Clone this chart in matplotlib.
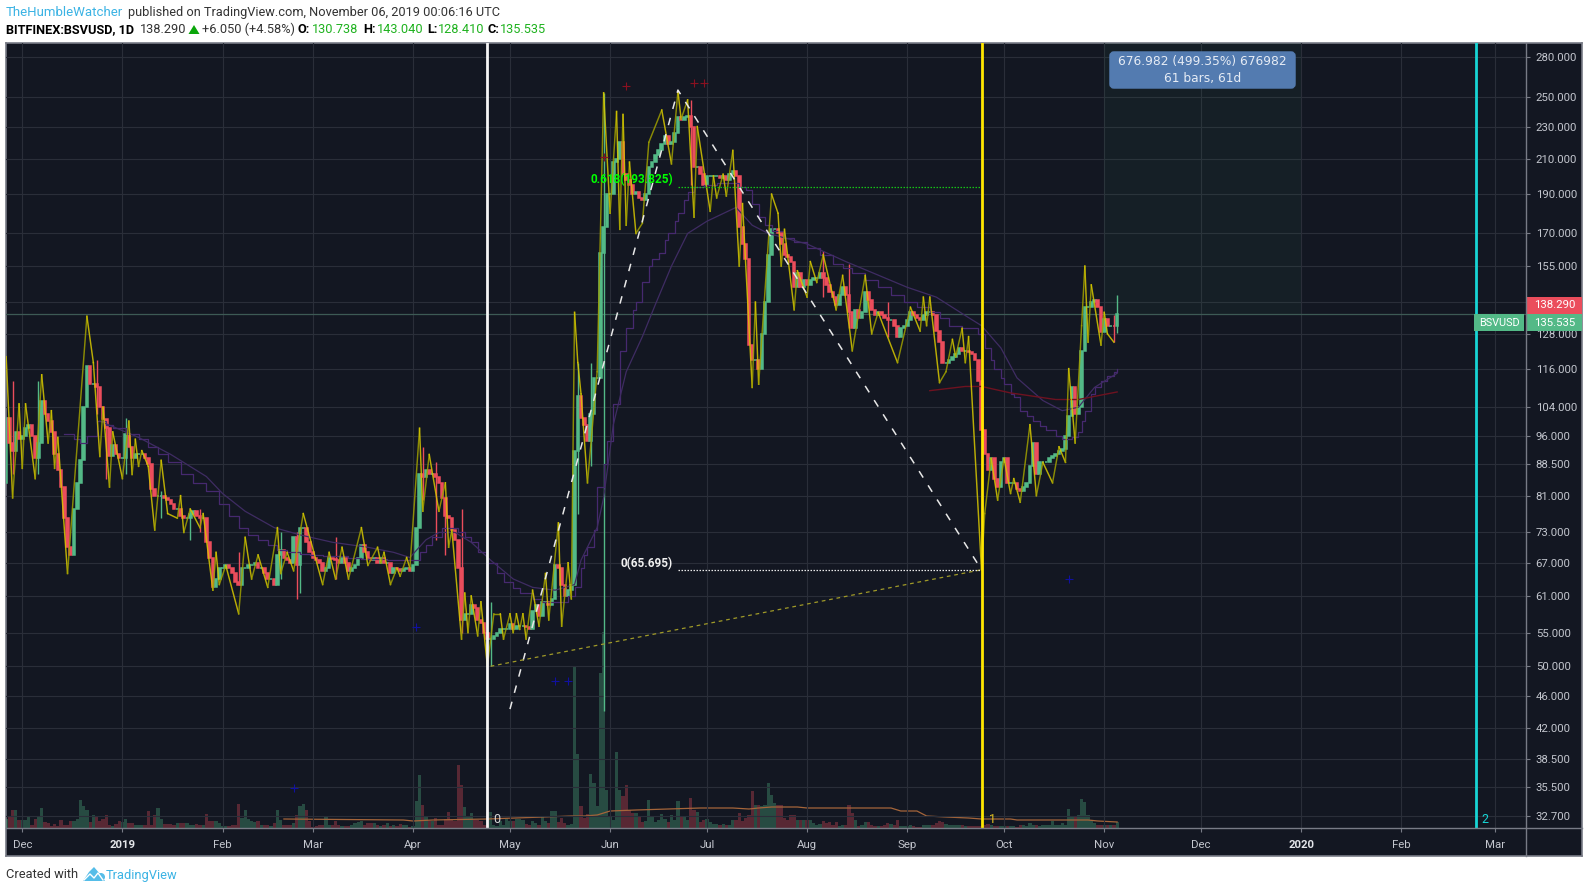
import matplotlib
matplotlib.use("Agg")
import numpy as np
import pandas as pd
import matplotlib.dates as mdates
from matplotlib import pyplot as plt
from matplotlib.patches import Rectangle, FancyBboxPatch, Polygon, Circle

# daily closes by month
close_nov18 = [101, 94, 92, 97, 95]
close_dec18 = [96, 98, 99, 96, 90, 94, 106, 102, 100, 97, 91, 87, 83, 76, 70, 68.5, 78, 84, 89.5, 104, 117, 111, 111, 110, 104, 100.5, 98, 90.5, 93.6, 91, 90]
close_jan19 = [90, 96.5, 93, 90, 91, 91, 91, 90, 88.5, 82.5, 81, 81, 81, 80.5, 80, 79, 78, 78, 76.5, 76, 76, 77, 77.5, 76.5, 76, 76, 71, 68, 62.5, 64, 66]
close_feb19 = [66, 66.5, 66, 65, 63.5, 63, 66, 66, 66.5, 66.5, 67, 66, 66, 65, 64, 64, 63, 68.5, 69.5, 68, 67.5, 67, 72, 66.5, 74, 74, 71, 69]
close_mar19 = [68, 67.5, 67, 65.5, 66, 68, 67.8, 67.5, 67, 68, 67, 65.5, 66, 66.5, 68, 70.5, 69, 68, 67.5, 68, 67, 68, 67, 67, 65, 66, 65.8, 65.5, 65.8, 66, 65.5]
close_apr19 = [66.5, 74, 86, 85.5, 87, 86, 86, 85.5, 84, 80.5, 76.5, 76, 73.5, 71.5, 66, 57, 58, 58, 59.5, 59, 57, 56.5, 55, 54, 54, 54.5, 55, 55.5, 55.5, 55.6]
close_may19 = [56.3, 55.6, 56, 56, 56, 55.8, 55.5, 58.5, 59.5, 57.7, 60, 60, 59.5, 60.5, 66.5, 66, 63, 61, 62, 63, 92, 107.5, 101, 99, 94.5, 102, 113, 113, 161, 173, 190]
close_jun19 = [190, 208, 210, 220, 201, 198, 195, 190, 191, 188, 187, 190, 205, 208, 212, 215, 219, 224, 219, 220, 226, 236, 234, 236, 237, 230, 205, 205, 201, 195]
close_jul19 = [200, 200, 200, 200, 199, 200, 198, 201, 203, 200, 173, 165, 158, 124, 119, 119, 116, 128, 140, 160, 172, 172, 170, 165, 160, 159, 157, 146, 152, 146, 149]
close_aug19 = [147, 149, 150, 150, 152, 150, 147, 144, 142, 139, 143, 146, 143, 136, 130, 137, 134, 136, 144, 141, 137, 135, 136, 135, 134, 133, 133, 131, 127, 130, 131]
close_sep19 = [133, 136, 135, 134, 133, 135, 136, 136, 135, 129, 125, 118, 118, 119, 120, 121, 123, 122, 122, 121.5, 121, 119, 112, 97.5, 91, 87, 90, 85, 83, 89]
close_oct19 = [90, 84, 84, 84, 82.5, 82, 83, 84, 88, 94, 86, 89, 89, 89, 90, 90.5, 91, 92, 92.5, 96, 101.5, 110, 102, 104, 121.8, 138, 138, 140, 141, 138, 128.5]
close_nov19 = [133.5, 131, 131, 130.7, 135.535]
first_open = 84

# volume by month (same length as the closes, unit is arbitrary)
vol_nov18 = [9, 12, 18, 18, 8]
vol_dec18 = [8, 8, 12, 3, 9, 12, 20, 6, 5, 2, 4, 2, 8, 3, 3, 7, 7, 9, 28, 22, 18, 6, 13, 12, 7, 9, 13, 3, 2, 4, 7]
vol_jan19 = [6, 9, 5, 5, 3, 3, 3, 3, 17, 3, 13, 20, 9, 4, 4, 4, 3, 5, 5, 5, 5, 3, 3, 4, 3, 3, 14, 7, 7, 7, 5]
vol_feb19 = [2, 2, 2, 3, 3, 24, 10, 18, 9, 7, 6, 7, 3, 3, 3, 2, 5, 18, 8, 3, 3, 3, 5, 13, 22, 24, 18, 7]
vol_mar19 = [1, 2, 3, 3, 12, 3, 3, 7, 3, 2, 2, 2, 3, 5, 6, 7, 3, 5, 5, 5, 3, 2, 3, 5, 2, 3, 2, 4, 3, 3, 1]
vol_apr19 = [2, 27, 53, 23, 12, 7, 7, 10, 3, 3, 9, 16, 8, 7, 63, 43, 21, 12, 15, 8, 8, 7, 3, 16, 16, 3, 2, 7, 3, 10]
vol_may19 = [7, 7, 9, 9, 8, 4, 3, 7, 5, 3, 12, 7, 5, 17, 17, 6, 10, 5, 3, 4, 162, 74, 22, 10, 14, 54, 45, 22, 155, 196, 38]
vol_jun19 = [12, 8, 76, 38, 32, 43, 18, 15, 15, 12, 6, 7, 28, 11, 6, 8, 14, 9, 6, 13, 8, 27, 12, 11, 8, 30, 18, 16, 6, 8]
vol_jul19 = [9, 6, 4, 4, 3, 4, 3, 3, 8, 8, 15, 7, 10, 13, 37, 23, 23, 22, 23, 45, 33, 25, 23, 23, 10, 8, 13, 13, 8, 8, 8]
vol_aug19 = [8, 8, 5, 3, 4, 7, 5, 6, 3, 6, 2, 3, 3, 23, 15, 8, 2, 3, 6, 6, 3, 2, 2, 2, 3, 5, 4, 3, 8, 2, 2]
vol_sep19 = [2, 3, 2, 1, 1, 3, 3, 3, 3, 5, 7, 6, 4, 3, 3, 3, 3, 3, 2, 2, 2, 2, 2, 2, 3, 4, 3, 2, 2, 2]
vol_oct19 = [2, 2, 2, 2, 1, 3, 3, 2, 5, 3, 3, 2, 3, 3, 3, 7, 3, 3, 5, 3, 19, 12, 12, 13, 29, 26, 13, 8, 5, 3, 3]
vol_nov19 = [3, 3, 3, 3, 6]

# only the wicks that stick out (day = days after 2018-12-01)
wick_days = [-3, 5, 23, 26, 32, 43, 52, 55, 67, 80, 85, 86, 97, 124, 128, 131, 136, 145, 172, 176, 180, 207, 248, 256, 268, 338, 339]
wick_highs = [112, 112, 119, 100, 101, 82, 78, 78, 69, 73, 73, 69, 72, 93, 89, 79, 78, 60, 118, 118, 253, 248, 162, 156, 140, 135, 143.04]
wick_lows = [86, 86, 102, 85, 86, 76, 71.5, 73, 63, 64, 60.5, 61.5, 64, 80, 71.5, 68.5, 55, 50, 77, 88, 44, 195, 142, 130, 127, 125, 128.41]

# yellow high/low swing line
zz_days = [-5, -3, -1, 0, 1, 4, 6, 8, 9, 10, 11, 14, 20, 22, 24, 25, 27, 28, 31, 33, 34, 35, 36, 37, 39, 41, 43, 45, 48, 49, 50, 52, 55, 56, 59, 60, 61, 63, 67, 69, 71, 73, 76, 79, 80, 82, 84, 87, 93, 95, 97, 99, 101, 105, 107, 110, 111, 112, 114, 116, 117, 119, 120, 123, 124, 126, 129, 131, 132, 133, 136, 137, 138, 139, 141,
           142, 144, 146, 148, 149, 151, 152, 153, 154, 155, 156, 158, 160, 162, 163, 166, 167, 169, 170, 171, 172, 173, 175, 178, 180, 182, 184, 185, 186, 187, 188, 190, 192, 194, 198, 201, 203, 204, 206, 208, 209, 213, 214, 215, 217, 218, 220, 222, 223, 226, 227, 228, 232, 234, 235, 236, 239, 240, 243, 244, 246, 248, 252, 254, 257, 261, 263, 265, 271, 275, 278, 279, 280, 281, 284, 286, 288, 289, 291, 292, 293, 297,
           298, 300, 302, 304, 306, 307, 309, 312, 314, 316, 319, 321, 323, 324, 326, 328, 329, 330, 331, 334, 335, 336, 338]
zz_prices = [120, 80.5, 105, 87.5, 105, 85, 114, 94, 103, 87.5, 95.5, 65, 134.5, 118, 90.5, 104, 83, 97, 85, 100, 86, 95, 88, 92, 88, 73.5, 89.5, 77, 76, 81, 73, 78, 74, 77, 62, 69, 63, 66.5, 58, 72, 64, 68.5, 62.5, 74, 65, 69, 65.5, 77, 63, 69, 64, 70, 64, 74, 66.5, 70, 67, 69, 63, 66, 64.5, 68, 66, 98, 77.5, 91, 77.5, 84, 70, 73.5, 54, 61.5, 55, 61, 54.5,
             60, 50, 58, 58, 54, 58, 55, 58, 55.5, 58, 54, 62, 56, 65, 57, 75, 56, 67, 60.5, 136, 118, 108, 84, 115, 253, 180, 240, 172, 238, 174, 208, 170, 175, 220, 241, 207, 254, 235, 248, 178, 230, 181, 200, 188, 201, 189, 215, 155, 185, 110, 140, 111, 190, 180, 155, 172, 137, 153, 142, 157, 148, 160, 137, 151, 122, 151, 128, 136, 118, 138, 129, 142, 131, 142, 111.5, 115, 126, 120, 130, 118, 127, 65.695,
             77, 90, 80, 90, 81.5, 85, 79.5, 99, 81, 89, 84, 93, 89, 116, 94, 131, 155, 125, 147, 124, 136, 128, 125]

# moving averages
ma_step_days = [13, 16, 18, 20, 23, 26, 28, 32, 36, 39, 42, 45, 49, 53, 57, 61, 64, 67, 70, 73, 76, 79, 82, 86, 89, 93, 97, 101, 105, 109, 113, 116, 120, 123, 125, 127, 130, 132, 135, 137, 139, 141, 144, 147, 149, 152, 154, 158, 161, 164, 167, 169, 171, 173, 174, 175, 177, 178, 180, 181, 183, 185, 187, 189, 190, 192, 194, 195, 197, 199, 200, 202, 203, 205, 206, 208, 211, 215, 220, 222, 224, 226, 228, 230, 232, 236, 239, 243, 247, 251, 254, 257, 261, 265, 269, 273, 277, 281, 284, 287, 291, 296, 298, 300, 301, 303, 304, 306, 307, 309, 311, 313, 315, 317, 320, 322, 325, 327, 328, 329, 331, 332, 334, 336, 338, 339]
ma_step_vals = [96.5, 95, 94, 96, 100, 99, 98, 96.5, 95, 93, 91, 89, 86, 84, 82, 79, 76.5, 74, 72.5, 71.5, 70.5, 69.5, 69, 68.7, 68.5, 68.3, 68.2, 68, 67.8, 67.7, 67.6, 67.5, 67.5, 69, 70.5, 72, 74, 74, 73, 72, 71, 69, 67, 65, 63.5, 62.3, 61.5, 60.5, 60, 60, 60, 61, 62.5, 66, 68.5, 70, 73.5, 83, 88.5, 94.5, 105, 122, 130, 137, 140, 148, 155, 158, 161, 167, 170, 176, 180, 187, 191, 194, 195, 196, 196, 194, 192, 185, 178, 174, 171, 168, 166, 163, 160, 156, 154, 152, 149, 146, 143, 140, 138, 136, 134, 131, 130, 128, 123, 119, 116, 113, 111, 108, 107, 103, 101.5, 100, 98.5, 97.5, 96, 95, 95.5, 97, 100, 103, 108, 110, 112, 113.5, 115, 116]
ma_smooth_days = [24, 36, 46, 57, 62, 69, 78, 86, 96, 107, 115, 120, 125, 129, 134, 139, 145, 152, 158, 165, 171, 173, 178, 180, 183, 187, 192, 196, 201, 206, 212, 221, 226, 231, 243, 255, 274, 283, 293, 297, 303, 308, 316, 322, 327, 332, 339]
ma_smooth_vals = [100, 95.5, 91, 85.5, 81.5, 77.5, 74, 72.5, 71, 70, 69, 68, 71.5, 73, 73, 71, 67.5, 64, 62.5, 62, 63, 67.5, 74, 80.5, 99, 115, 127, 139, 155, 170, 176, 183, 174, 170, 165, 157, 146, 142, 134, 131, 123, 113, 106, 103, 104, 110, 114.5]
ma_red_days = [281, 292, 297, 306, 320, 327, 339]
ma_red_vals = [109, 110.3, 110.3, 108.3, 106.3, 106.3, 108.6]
vol_ma_days = [81, 118, 121, 127, 144, 170, 174, 178, 182, 190, 200, 210, 220, 225, 228, 232, 240, 243, 269, 272, 277, 280, 286, 293, 297, 306, 308, 330, 333, 339]
vol_ma_vals = [9, 8, 7, 8, 9, 12, 12, 13, 17, 18, 19, 20, 20, 19, 20, 21, 21, 20, 20, 17, 17, 12, 11, 10, 9, 9, 8, 8, 7, 6]

# drawings
fib_days = [151, 203, 297]
fib_prices = [44.3, 255, 65.695]
trend_days = [145, 297]
trend_prices = [50, 65.695]
red_cross_days = [180, 187, 208, 211]
red_cross_prices = [211, 258, 260, 260]
blue_cross_days = [84, 122, 165, 169, 324]
blue_cross_prices = [35.4, 55.8, 48, 48, 64]

price_ticks = [280, 250, 230, 210, 190, 170, 155, 128, 116, 104, 96, 88.5, 81, 73, 67, 61, 55, 50, 46, 42, 38.5, 35.5, 32.7]
price_grid_extra = [140]
month_ticks = ["2018-12-01", "2019-01-01", "2019-02-01", "2019-03-01", "2019-04-01", "2019-05-01", "2019-06-01", "2019-07-01", "2019-08-01", "2019-09-01", "2019-10-01", "2019-11-01", "2019-12-01", "2020-01-01", "2020-02-01", "2020-03-01"]
month_labels = ["Dec", "2019", "Feb", "Mar", "Apr", "May", "Jun", "Jul", "Aug", "Sep", "Oct", "Nov", "Dec", "2020", "Feb", "Mar"]

BG = "#131722"
GRID = "#2a2e39"
FRAME = "#787b86"
TEXT = "#c3c6ce"
UP = "#53b987"
DOWN = "#eb4d5c"
W, H = 1588, 892
plt.rcParams["font.family"] = ["Roboto", "DejaVu Sans"]


def ax_rect(x0, y0, x1, y1):
    """pixel box (y from the top) to figure fractions"""
    return [x0 / W, 1 - y1 / H, (x1 - x0) / W, (y1 - y0) / H]


def read_candles():
    closes = close_nov18 + close_dec18 + close_jan19 + close_feb19 + close_mar19 + close_apr19 + close_may19 + close_jun19 + close_jul19 + close_aug19 + close_sep19 + close_oct19 + close_nov19
    vols = vol_nov18 + vol_dec18 + vol_jan19 + vol_feb19 + vol_mar19 + vol_apr19 + vol_may19 + vol_jun19 + vol_jul19 + vol_aug19 + vol_sep19 + vol_oct19 + vol_nov19
    closes = np.array(closes, dtype=float)
    opens = np.r_[first_open, closes[:-1]]
    days = np.arange(len(closes)) - 5
    return days, opens, closes, np.array(vols, dtype=float)


fig = plt.figure(figsize=(W / 100, H / 100), dpi=100, facecolor="white")

bg = fig.add_axes(ax_rect(6, 43, 1582, 856), facecolor=BG)
bg.set_xticks([])
bg.set_yticks([])
for s in bg.spines.values():
    s.set_color(FRAME)
    s.set_linewidth(1.2)

x0 = mdates.date2num(pd.Timestamp("2018-12-01"))
days, opens, closes, vols = read_candles()
xs = x0 + days

ax = fig.add_axes(ax_rect(6, 43, 1526, 828))
ax.set_yscale("log")
ax.set_xlim(x0 - 5.05, x0 + 465.6)
ax.set_ylim(31.65, 291.3)
ax.patch.set_visible(False)
for s in ax.spines.values():
    s.set_visible(False)
ax.set_zorder(3)

ax.yaxis.tick_right()
ax.set_yticks(price_ticks)
ax.set_yticklabels([f"{p:.3f}" for p in price_ticks])
ax.minorticks_off()
ax.set_xticks([mdates.date2num(pd.Timestamp(t)) for t in month_ticks])
ax.set_xticklabels(month_labels)
ax.tick_params(axis="y", colors=TEXT, labelsize=8.2, length=3, width=0.8, pad=4, color=FRAME)
ax.tick_params(axis="x", colors=TEXT, labelsize=8.2, length=3, width=0.8, pad=6, color=FRAME)
for lbl in ax.get_xticklabels():
    if lbl.get_text() in ("2019", "2020"):
        lbl.set_color("#e4e6ea")
        lbl.set_fontweight("bold")
ax.grid(True, color=GRID, linewidth=0.8)
ax.set_axisbelow(True)
for p in price_grid_extra:
    ax.axhline(p, color=GRID, linewidth=0.8, zorder=0)

# volume goes under the candles, in its own axes
ax_vol = fig.add_axes(ax_rect(6, 43, 1526, 828), sharex=ax)
ax_vol.set_ylim(0, 785)
ax_vol.axis("off")
ax_vol.set_zorder(2)
vol_colors = [UP if c >= o else DOWN for o, c in zip(opens, closes)]
ax_vol.bar(xs, vols, width=1.0, color=vol_colors, alpha=0.32, linewidth=0)
ax_vol.plot(x0 + np.array(vol_ma_days), vol_ma_vals, color="#a5653a", linewidth=0.9)

# goal zone of the measuring tool
ax.add_patch(Rectangle((x0 + 335, 135.535), 61, 676.982, facecolor="#2e6b4f", alpha=0.1, linewidth=0, zorder=1))
ax.axhline(135.535, color="#3d5a55", linewidth=0.9, zorder=1.5)

# candles
ups = closes >= opens
body_low = np.minimum(opens, closes)
body_high = np.maximum(opens, closes)
colors = np.where(ups, UP, DOWN)
ax.bar(xs, body_high - body_low, bottom=body_low, width=0.8, color=colors, edgecolor=colors, linewidth=1.1, zorder=3)
wick_idx = np.array(wick_days) + 5
ax.vlines(x0 + np.array(wick_days), wick_lows, wick_highs, colors=colors[wick_idx], linewidth=1, zorder=3)

# moving averages
ax.plot(x0 + np.array(ma_step_days), ma_step_vals, color="#46296f", linewidth=0.9, drawstyle="steps-post", zorder=4)
ax.plot(x0 + np.array(ma_smooth_days), ma_smooth_vals, color="#3f2c63", linewidth=0.9, zorder=4)
ax.plot(x0 + np.array(ma_red_days), ma_red_vals, color="#6e1220", linewidth=1, zorder=4)

# swing line: falling legs brighter than rising ones
for i in range(len(zz_days) - 1):
    p0, p1 = zz_prices[i], zz_prices[i + 1]
    col = "#d8c800" if p1 < p0 else "#a0a000"
    ax.plot(x0 + np.array(zz_days[i:i + 2]), [p0, p1], color=col, linewidth=1.05, alpha=0.85, zorder=5)

# fib and trend drawings
ax.plot(x0 + np.array(fib_days), fib_prices, color="#e8e8e8", linewidth=1.1, dashes=(5, 6), zorder=6)
ax.plot(x0 + np.array(trend_days), trend_prices, color="#a09a28", linewidth=0.9, dashes=(3, 3), zorder=6)
ax.plot([x0 + 203, x0 + 297], [193.825, 193.825], color="#16c416", linewidth=0.9, dashes=(1.2, 1.2), zorder=6)
ax.plot([x0 + 203, x0 + 297], [65.695, 65.695], color="#e8e8e8", linewidth=0.9, dashes=(1.2, 1.2), zorder=6)
ax.text(x0 + 201.5, 197.8, "0.618(193.825)", color="#00ff00", fontsize=8.5, fontweight="bold", ha="right", va="center", zorder=7)
ax.text(x0 + 201.5, 66.8, "0(65.695)", color="#f0f0f0", fontsize=8.5, fontweight="bold", ha="right", va="center", zorder=7)

# cycle lines
ax.axvline(x0 + 144, color="#f5f5f5", linewidth=2, zorder=7)
ax.axvline(x0 + 297.2, color="#ffe600", linewidth=2, zorder=7)
ax.axvline(x0 + 450.2, color="#17d5d5", linewidth=2, zorder=7)
ax.text(x0 + 145.7, 32.4, "0", color="#d8d8d8", fontsize=9, va="center", zorder=7)
ax.text(x0 + 299.2, 32.4, "1", color="#e0c020", fontsize=9, va="center", zorder=7)
ax.text(x0 + 451.9, 32.4, "2", color="#17d5d5", fontsize=9, va="center", zorder=7)

ax.plot(x0 + np.array(red_cross_days), red_cross_prices, "+", color="#8a1020", markersize=6, markeredgewidth=0.8, zorder=6)
ax.plot(x0 + np.array(blue_cross_days), blue_cross_prices, "+", color="#1010a0", markersize=6, markeredgewidth=0.8, zorder=6)

# pixel overlay for tags, frame lines, header and footer
ov = fig.add_axes([0, 0, 1, 1], facecolor="none")
ov.set_xlim(0, W)
ov.set_ylim(H, 0)
ov.axis("off")
ov.set_zorder(5)
ov.plot([1526, 1526], [43, 856], color=FRAME, linewidth=1)
ov.plot([6, 1582], [828, 828], color=FRAME, linewidth=1)

ov.add_patch(Rectangle((1526, 297), 56, 16.7, facecolor="#eb4d5c", linewidth=0))
ov.add_patch(Rectangle((1526, 313.7), 56, 17.3, facecolor=UP, linewidth=0))
ov.add_patch(Rectangle((1474, 313.7), 50, 17.3, facecolor=UP, linewidth=0))
ov.text(1534, 305.5, "138.290", color="white", fontsize=8.2, va="center")
ov.text(1534, 322.5, "135.535", color="white", fontsize=8.2, va="center")
ov.text(1499, 322.5, "BSVUSD", color="white", fontsize=7.8, va="center", ha="center")

ov.add_patch(FancyBboxPatch((1111, 53), 183, 34, boxstyle="round,pad=0,rounding_size=3", facecolor="#537bb0", edgecolor="#537bb0", linewidth=2.5))
ov.text(1202.5, 62, "676.982 (499.35%) 676982", color="#e6ecf5", fontsize=8.8, family="DejaVu Sans", ha="center", va="center")
ov.text(1202.5, 78.5, "61 bars, 61d", color="#e6ecf5", fontsize=8.8, family="DejaVu Sans", ha="center", va="center")

BLUE = "#3bb3e4"
INK = "#333333"
GREEN = "#1fb21f"
ov.text(6, 12.5, "TheHumbleWatcher", color=BLUE, fontsize=9.5, va="center")
ov.text(128, 12.5, "published on TradingView.com, November 06, 2019 00:06:16 UTC", color=INK, fontsize=9.15, va="center")
ov.text(6, 29.5, "BITFINEX:BSVUSD, 1D", color="black", fontsize=9.2, fontweight="bold", va="center")
ov.text(140, 29.5, "138.290", color=INK, fontsize=9.2, va="center")
ov.add_patch(Polygon([[188.5, 34], [199.5, 34], [194, 25]], facecolor="#0aa60a", linewidth=0))
ov.text(202, 29.5, "+6.050 (+4.58%)", color=INK, fontsize=9.2, va="center")
for px, lab in zip([298, 363, 427, 488], ["O:", "H:", "L:", "C:"]):
    ov.text(px, 29.5, lab, color="black", fontsize=9.2, fontweight="bold", va="center")
for px, val in zip([312, 377, 438, 500], ["130.738", "143.040", "128.410", "135.535"]):
    ov.text(px, 29.5, val, color=GREEN, fontsize=9.2, va="center")

ov.text(6, 875, "Created with", color=INK, fontsize=9.3, va="center")
ov.add_patch(Polygon([[83, 881], [89, 872], [94, 867], [100, 874], [105, 881]], facecolor="#55bde8", linewidth=0))
ov.add_patch(Circle((101, 877), 4, facecolor="#55bde8", linewidth=0))
ov.plot([84, 90, 94, 98, 103], [880, 874, 878, 873, 880], color="white", linewidth=1)
ov.text(106, 875, "TradingView", color=BLUE, fontsize=9.3, va="center")

fig.savefig("out.png", dpi=100)
